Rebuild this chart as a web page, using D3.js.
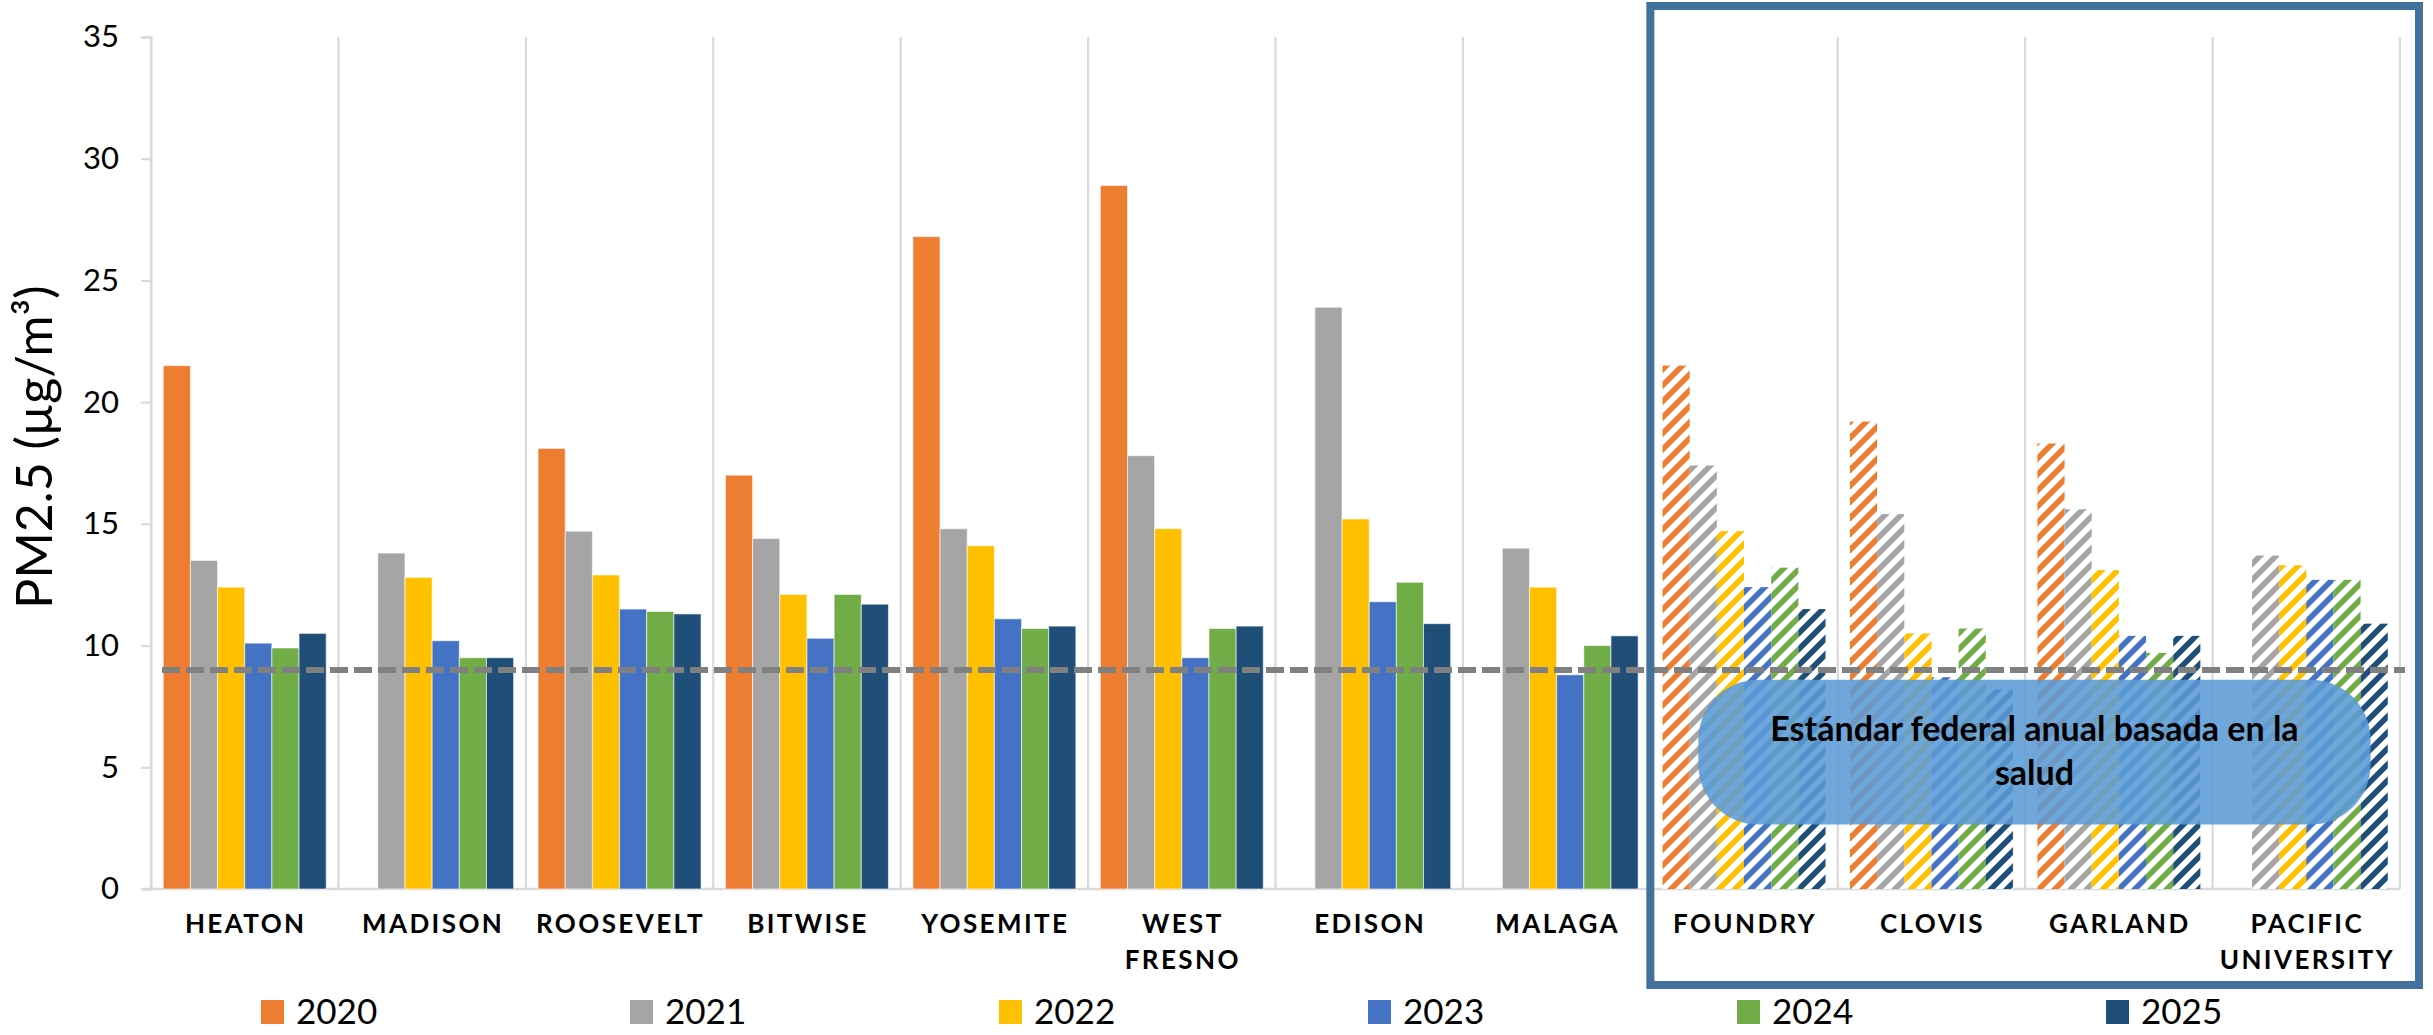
<!DOCTYPE html>
<html>
<head>
<meta charset="utf-8">
<script src="https://cdn.jsdelivr.net/npm/d3@7"></script>
<style>
  html, body { margin: 0; padding: 0; background: #fff; }
  svg { display: block; }
</style>
</head>
<body>
<svg id="chart" width="2433" height="1035"></svg>
<script>
// ---------- DATA ----------
const sites = ["HEATON", "MADISON", "ROOSEVELT", "BITWISE", "YOSEMITE", "WEST FRESNO",
               "EDISON", "MALAGA", "FOUNDRY", "CLOVIS", "GARLAND", "PACIFIC UNIVERSITY"];
const hatchedSites = ["FOUNDRY", "CLOVIS", "GARLAND", "PACIFIC UNIVERSITY"];
const years = ["2020", "2021", "2022", "2023", "2024", "2025"];
const yearColors = ["#ED7D31", "#A5A5A5", "#FFC000", "#4472C4", "#70AD47", "#1F4E79"];

const values2020 = [21.5, null, 18.1, 17.0, 26.8, 28.9, null, null, 21.5, 19.2, 18.3, null];
const values2021 = [13.5, 13.8, 14.7, 14.4, 14.8, 17.8, 23.9, 14.0, 17.4, 15.4, 15.6, 13.7];
const values2022 = [12.4, 12.8, 12.9, 12.1, 14.1, 14.8, 15.2, 12.4, 14.7, 10.5, 13.1, 13.3];
const values2023 = [10.1, 10.2, 11.5, 10.3, 11.1, 9.5, 11.8, 8.8, 12.4, 8.7, 10.4, 12.7];
const values2024 = [9.9, 9.5, 11.4, 12.1, 10.7, 10.7, 12.6, 10.0, 13.2, 10.7, 9.7, 12.7];
const values2025 = [10.5, 9.5, 11.3, 11.7, 10.8, 10.8, 10.9, 10.4, 11.5, 8.2, 10.4, 10.9];
const seriesValues = [values2020, values2021, values2022, values2023, values2024, values2025];

const yTicks = [0, 5, 10, 15, 20, 25, 30, 35];
const standardValue = 9.0;
const yTitle = "PM2.5 (µg/m³)";
const calloutLines = ["Estándar federal anual basada en la", "salud"];

// ---------- SETUP ----------
const FONT = "Lato, 'Open Sans', sans-serif";
const svg = d3.select("#chart");
const plot = { left: 151, right: 2400, top: 37, bottom: 889 };

const x0 = d3.scaleBand().domain(sites).range([plot.left, plot.right]).paddingInner(0).paddingOuter(0);
const x1 = d3.scaleBand().domain(years).range([0, x0.bandwidth()]).paddingInner(0).paddingOuter(0.45);
const y = d3.scaleLinear().domain([0, 35]).range([plot.bottom, plot.top]);
const color = d3.scaleOrdinal().domain(years).range(yearColors);

// hatch patterns
const defs = svg.append("defs");
years.forEach((yr, i) => {
  const p = defs.append("pattern")
    .attr("id", "hatch" + yr)
    .attr("patternUnits", "userSpaceOnUse")
    .attr("width", 16).attr("height", 16);
  p.append("rect").attr("width", 16).attr("height", 16).attr("fill", "#fff");
  p.append("path")
    .attr("d", "M-4,4 L4,-4 M0,16 L16,0 M12,20 L20,12")
    .attr("stroke", yearColors[i])
    .attr("stroke-width", 5.6)
    .attr("stroke-linecap", "square");
});

// ---------- GRID / AXES ----------
const grid = svg.append("g");
const boundaries = sites.map(s => x0(s)).concat([plot.right]);
grid.selectAll("line.v").data(boundaries).join("line")
  .attr("x1", d => d).attr("x2", d => d)
  .attr("y1", plot.top).attr("y2", plot.bottom)
  .attr("stroke", "#D9D9D9").attr("stroke-width", 2.2);

const yAxis = d3.axisLeft(y).tickValues(yTicks).tickSize(10).tickPadding(22).tickFormat(d3.format("d"));
const yg = svg.append("g").attr("transform", `translate(${plot.left},0)`).call(yAxis);
yg.select(".domain").attr("stroke", "#D9D9D9").attr("stroke-width", 2.2);
yg.selectAll(".tick line").attr("stroke", "#D9D9D9").attr("stroke-width", 2.2);
yg.selectAll(".tick text").attr("font-family", FONT).attr("font-size", 31).attr("fill", "#000");

// baseline
svg.append("line")
  .attr("x1", plot.left - 10).attr("x2", plot.right)
  .attr("y1", y(0)).attr("y2", y(0))
  .attr("stroke", "#D9D9D9").attr("stroke-width", 2.5);

// y title
svg.append("text")
  .attr("transform", `translate(52,${447}) rotate(-90)`)
  .attr("text-anchor", "middle")
  .attr("font-family", FONT).attr("font-size", 50).attr("fill", "#000")
  .text(yTitle);

// ---------- BARS ----------
const barData = [];
sites.forEach((s, si) => {
  years.forEach((yr, yi) => {
    const v = seriesValues[yi][si];
    if (v != null) barData.push({ site: s, year: yr, value: v, hatched: hatchedSites.includes(s) });
  });
});

svg.append("g").selectAll("rect").data(barData).join("rect")
  .attr("x", d => x0(d.site) + x1(d.year))
  .attr("width", x1.bandwidth())
  .attr("y", d => y(d.value))
  .attr("height", d => y(0) - y(d.value))
  .attr("fill", d => d.hatched ? `url(#hatch${d.year})` : color(d.year))
  .attr("stroke", d => d.hatched ? "none" : "#ffffff")
  .attr("stroke-opacity", 0.6)
  .attr("stroke-width", 1);

// ---------- STANDARD LINE ----------
svg.append("line")
  .attr("x1", plot.left + 11).attr("x2", plot.right + 5)
  .attr("y1", y(standardValue)).attr("y2", y(standardValue))
  .attr("stroke", "#808080").attr("stroke-width", 6)
  .attr("stroke-dasharray", "18 6");

// ---------- CALLOUT ----------
const cx0 = x0("FOUNDRY") + 48;
const cx1 = x0("PACIFIC UNIVERSITY") + 158;
const cy0 = y(8.6), cy1 = y(2.65);
svg.append("rect")
  .attr("x", cx0).attr("y", cy0)
  .attr("width", cx1 - cx0).attr("height", cy1 - cy0)
  .attr("rx", 60).attr("ry", 60)
  .attr("fill", "#5B9BD5").attr("fill-opacity", 0.88);
const ct = svg.append("text")
  .attr("text-anchor", "middle")
  .attr("font-family", FONT).attr("font-weight", "bold").attr("font-size", 34)
  .attr("fill", "#000");
calloutLines.forEach((l, i) => {
  ct.append("tspan").attr("x", (cx0 + cx1) / 2).attr("y", 741 + i * 44).text(l);
});

// ---------- CATEGORY LABELS ----------
const lab = svg.append("g");
sites.forEach(s => {
  const words = s.split(" ");
  const t = lab.append("text")
    .attr("text-anchor", "middle")
    .attr("font-family", FONT).attr("font-weight", "bold").attr("font-size", 26)
    .attr("letter-spacing", 2.4)
    .attr("fill", "#000");
  words.forEach((w, i) => {
    t.append("tspan").attr("x", x0(s) + x0.bandwidth() / 2 + 1).attr("y", 933 + i * 36).text(w);
  });
});

// ---------- HIGHLIGHT BOX ----------
svg.append("rect")
  .attr("x", x0("FOUNDRY")).attr("y", 6)
  .attr("width", plot.right + 19 - x0("FOUNDRY")).attr("height", 979)
  .attr("fill", "none").attr("stroke", "#41719C").attr("stroke-width", 8);

// ---------- LEGEND ----------
const legendX = d3.scaleLinear().domain([0, years.length - 1]).range([261, 2106]);
const lg = svg.append("g").selectAll("g").data(years).join("g")
  .attr("transform", (d, i) => `translate(${legendX(i)},1000)`);
lg.append("rect").attr("width", 23).attr("height", 24).attr("fill", d => color(d));
lg.append("text").attr("x", 35).attr("y", 24)
  .attr("font-family", FONT).attr("font-size", 35).attr("fill", "#000")
  .text(d => d);
</script>
</body>
</html>
